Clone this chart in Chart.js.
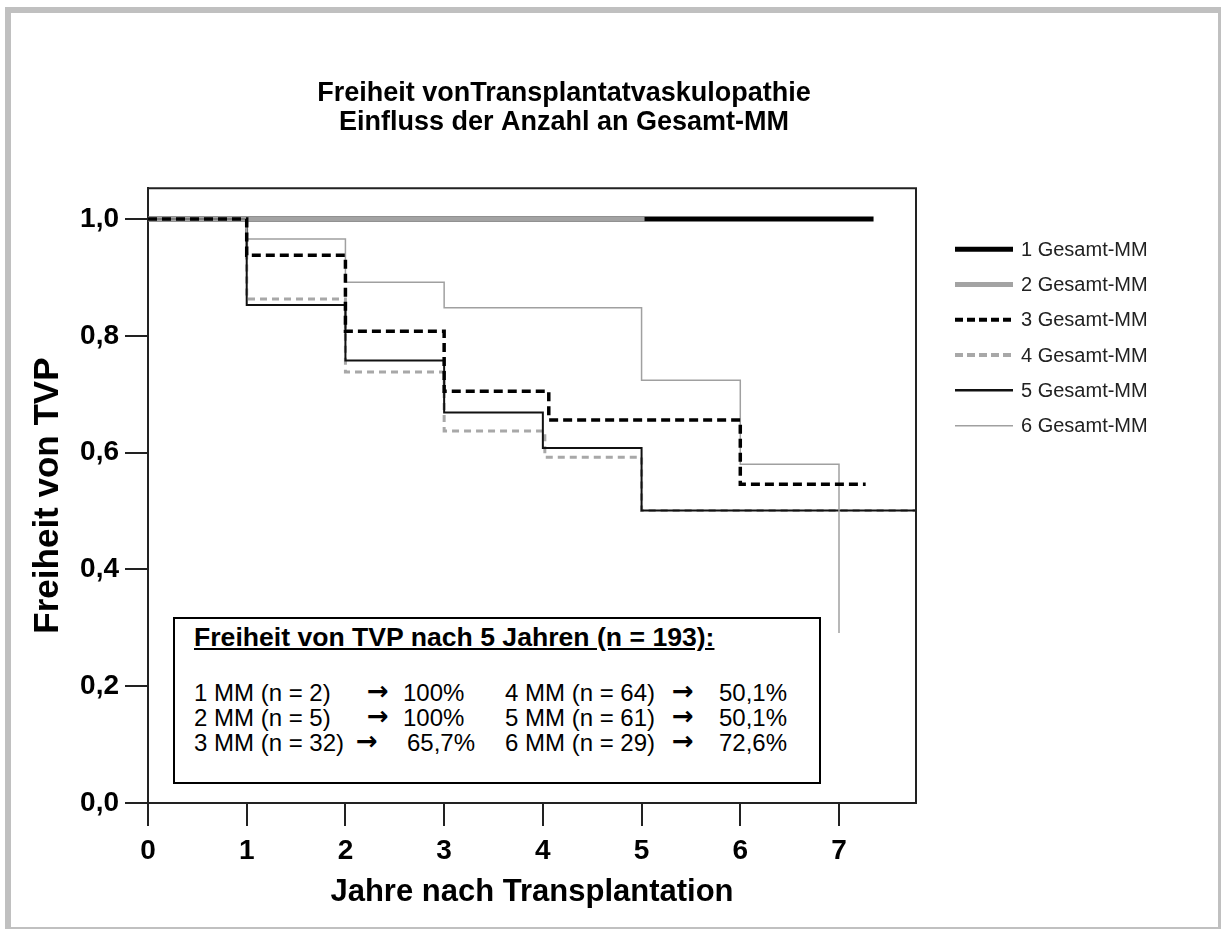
<!DOCTYPE html>
<html>
<head>
<meta charset="utf-8">
<script src="https://cdn.jsdelivr.net/npm/chart.js@4/dist/chart.umd.min.js"></script>
<style>
  body { margin: 0; background: #fff; font-family: "Liberation Sans", Arial, sans-serif; }
  #frame { position: absolute; left: 5px; top: 7px; width: 1207px; height: 914px;
           border-style: solid; border-color: #c0c0c0; border-width: 6px 3px 2px 6px; }
  #wrap { position: absolute; left: 0; top: 0; width: 1221px; height: 929px; }
  #box { position: absolute; left: 173px; top: 617px; width: 648px; height: 167px;
         box-sizing: border-box; border: 2px solid #000; background: #fff; color: #000; }
  #box span { position: absolute; white-space: pre; }
  #box span.arrow { font-family: "DejaVu Sans", sans-serif; font-weight: bold; }
</style>
</head>
<body>
<div id="frame"></div>
<div id="wrap"><canvas id="kmChart" width="1221" height="929"></canvas></div>
<div id="box"></div>
<script>
// Kaplan-Meier curves (years, freedom from TVP)
const seriesLabels = ['1 Gesamt-MM', '2 Gesamt-MM', '3 Gesamt-MM', '4 Gesamt-MM', '5 Gesamt-MM', '6 Gesamt-MM'];
const mm1Years = [0, 7.35];
const mm1Free  = [1.0, 1.0];
const mm2Years = [0, 5.03];
const mm2Free  = [1.0, 1.0];
const mm3Years = [0, 1, 2, 3, 4.06, 6, 7.27];
const mm3Free  = [1.0, 0.938, 0.808, 0.705, 0.656, 0.546, 0.546];
const mm4Years = [0, 1, 2, 3, 4.02, 5, 7.78];
const mm4Free  = [1.0, 0.863, 0.738, 0.637, 0.592, 0.501, 0.501];
const mm5Years = [0, 1, 2, 3, 4.0, 5, 7.78];
const mm5Free  = [1.0, 0.853, 0.758, 0.669, 0.608, 0.501, 0.501];
const mm6Years = [0, 1, 2, 3, 5, 6, 7];
const mm6Free  = [1.0, 0.966, 0.892, 0.848, 0.724, 0.580, 0.291];

const xTicks = [0, 1, 2, 3, 4, 5, 6, 7];
const yTicks = [0, 0.2, 0.4, 0.6, 0.8, 1.0];

// text of the summary box
const boxTitle = 'Freiheit von TVP nach 5 Jahren (n = 193):';
const boxRows = [
    ['1 MM (n = 2)', '100%', '4 MM (n = 64)', '50,1%'],
    ['2 MM (n = 5)', '100%', '5 MM (n = 61)', '50,1%'],
    ['3 MM (n = 32)', '65,7%', '6 MM (n = 29)', '72,6%']
];

Chart.defaults.font.family = '"Liberation Sans", Arial, sans-serif';

function pts(xs, ys) {
    return xs.map((x, i) => ({ x: x, y: ys[i] }));
}

// black frame round the plot area (top and right sides)
const framePlugin = {
    id: 'frame',
    afterDraw(chart) {
        const { ctx, chartArea: a } = chart;
        ctx.save();
        ctx.strokeStyle = '#222';
        ctx.lineWidth = 2;
        ctx.beginPath();
        ctx.moveTo(a.left, a.top);
        ctx.lineTo(a.right, a.top);
        ctx.lineTo(a.right, a.bottom);
        ctx.stroke();
        ctx.restore();
    }
};

// legend drawn beside the plot with the line styles of the datasets
const sideLegend = {
    id: 'sideLegend',
    afterDraw(chart) {
        const { ctx, chartArea: a } = chart;
        const x0 = a.right + 39;
        chart.data.datasets.forEach((ds, i) => {
            const y = a.top + 61 + i * 35.3;
            ctx.save();
            ctx.strokeStyle = ds.borderColor;
            ctx.lineWidth = ds.legendWidth;
            ctx.setLineDash(ds.legendDash || []);
            ctx.beginPath();
            ctx.moveTo(x0, y);
            ctx.lineTo(x0 + 58, y);
            ctx.stroke();
            ctx.setLineDash([]);
            ctx.fillStyle = '#222';
            ctx.font = '20px "Liberation Sans", Arial, sans-serif';
            ctx.textBaseline = 'middle';
            ctx.fillText(ds.label, x0 + 66, y + 1);
            ctx.restore();
        });
    }
};

const ctx = document.getElementById('kmChart').getContext('2d');
const kmChart = new Chart(ctx, {
    type: 'line',
    data: {
        datasets: [
            { label: seriesLabels[0], data: pts(mm1Years, mm1Free), borderColor: '#000', borderWidth: 5, legendWidth: 5, order: 6 },
            { label: seriesLabels[1], data: pts(mm2Years, mm2Free), borderColor: '#a3a3a3', borderWidth: 5, legendWidth: 5, order: 5 },
            { label: seriesLabels[2], data: pts(mm3Years, mm3Free), borderColor: '#000', borderWidth: 3.5, borderDash: [9, 5], legendWidth: 4, legendDash: [8, 4], order: 1 },
            { label: seriesLabels[3], data: pts(mm4Years, mm4Free), borderColor: '#a8a8a8', borderWidth: 3, borderDash: [7, 5], legendWidth: 4, legendDash: [8, 4], order: 4 },
            { label: seriesLabels[4], data: pts(mm5Years, mm5Free), borderColor: '#111', borderWidth: 2, legendWidth: 2.5, order: 3 },
            { label: seriesLabels[5], data: pts(mm6Years, mm6Free), borderColor: '#a0a0a0', borderWidth: 1.5, legendWidth: 1.5, order: 2 }
        ]
    },
    options: {
        responsive: false,
        animation: false,
        elements: {
            point: { radius: 0, hoverRadius: 0 },
            line: { stepped: true, fill: false, tension: 0 }
        },
        layout: { padding: { left: 20, right: 113, top: 0, bottom: 0 } },
        plugins: {
            legend: { display: false },
            tooltip: { enabled: false },
            title: {
                display: true,
                text: ['Freiheit vonTransplantatvaskulopathie', 'Einfluss der Anzahl an Gesamt-MM'],
                color: '#000',
                font: { size: 27, weight: 'bold', lineHeight: 1.04 },
                padding: { top: 80, bottom: 52 }
            }
        },
        scales: {
            x: {
                type: 'linear',
                min: 0,
                max: 7.78,
                afterBuildTicks: s => { s.ticks = xTicks.map(v => ({ value: v })); },
                afterFit: s => { s.height = 126; },
                ticks: { color: '#000', font: { size: 28, weight: 'bold' }, padding: 8, maxRotation: 0 },
                grid: { drawOnChartArea: false, tickLength: 23, color: '#222', lineWidth: 2 },
                border: { color: '#222', width: 2 },
                title: {
                    display: true,
                    text: 'Jahre nach Transplantation',
                    color: '#000',
                    font: { size: 31, weight: 'bold' },
                    padding: { top: 0, bottom: 18 }
                }
            },
            y: {
                min: 0,
                max: 1.053,
                afterBuildTicks: s => { s.ticks = yTicks.map(v => ({ value: v })); },
                afterFit: s => { s.width = 128; },
                ticks: {
                    color: '#000',
                    font: { size: 28, weight: 'bold' },
                    padding: 6,
                    callback: v => v.toFixed(1).replace('.', ',')
                },
                grid: { drawOnChartArea: false, tickLength: 23, color: '#222', lineWidth: 2 },
                border: { color: '#222', width: 2 },
                title: {
                    display: true,
                    text: 'Freiheit von TVP',
                    color: '#000',
                    font: { size: 35, weight: 'bold' },
                    padding: { top: 7, bottom: 0 }
                }
            },
            // empty axis that keeps room for the legend on the right
            yRoom: {
                position: 'right',
                display: true,
                afterFit: s => { s.width = 192; },
                ticks: { display: false },
                grid: { display: false },
                border: { display: false }
            }
        }
    },
    plugins: [framePlugin, sideLegend]
});

// summary box
const box = document.getElementById('box');
function addText(txt, left, centerY, size, cls, bold, underline) {
    const s = document.createElement('span');
    s.textContent = txt;
    if (cls) s.className = cls;
    s.style.left = (left - 175) + 'px';
    s.style.top = (centerY - size * 0.6 - 619) + 'px';
    s.style.fontSize = size + 'px';
    s.style.lineHeight = (size * 1.2) + 'px';
    if (bold) s.style.fontWeight = 'bold';
    if (underline) s.style.textDecoration = 'underline';
    box.appendChild(s);
}
addText(boxTitle, 194, 638, 26.6, '', true, true);
const rowY = [693, 718, 743];
const arrowX1 = [367, 367, 356];
const valX1 = [403, 403, 407];
boxRows.forEach((r, i) => {
    addText(r[0], 194, rowY[i], 24);
    addText('\u2192', arrowX1[i], rowY[i] - 1, 26, 'arrow');
    addText(r[1], valX1[i], rowY[i], 24);
    addText(r[2], 505, rowY[i], 24);
    addText('\u2192', 672, rowY[i] - 1, 26, 'arrow');
    addText(r[3], 719, rowY[i], 24);
});
</script>
</body>
</html>
